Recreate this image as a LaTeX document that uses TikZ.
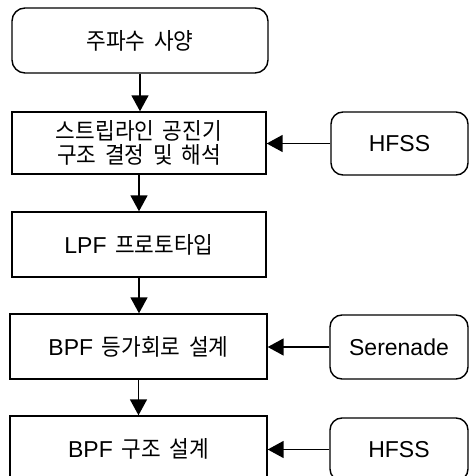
\documentclass[tikz,border=0pt]{standalone}
\usepackage{fontspec}
\setmainfont{Liberation Sans}
\newfontfamily\krfont[WordSpace=1.8, FakeStretch=0.93]{Noto Sans CJK KR}
\newcommand{\kr}[1]{{\krfont #1}}
\usetikzlibrary{arrows.meta}
\begin{document}
\begin{tikzpicture}[x=1pt,y=1pt,
  box/.style={draw, line width=1.4pt, rectangle, inner sep=0pt, font=\fontsize{23}{24.5}\selectfont, align=center},
  rbox/.style={box, rounded corners=12pt},
  arr/.style={line width=1.6pt, -{Triangle[length=16pt,width=17pt]}}]
\useasboundingbox (0,0) rectangle (469,476);
\node[rbox, rounded corners=13pt, minimum width=256, minimum height=65] (top) at (140,435.5) {\kr{주파수 사양}};
\node[box, minimum width=254, minimum height=62] (s2) at (139,333) {\kr{스트립라인 공진기}\\\kr{구조 결정 및 해석}};
\node[box, minimum width=254, minimum height=65] (s3) at (139,231.5) {LPF\kr{ 프로토타입}};
\node[box, minimum width=257, minimum height=65] (s4) at (138.5,129.5) {BPF\kr{ 등가회로 설계}};
\node[box, minimum width=257, minimum height=65] (s5) at (138.5,27.5) {BPF\kr{ 구조 설계}};
\node[rbox, minimum width=137, minimum height=63] (h1) at (399.5,332.5) {HFSS};
\node[rbox, minimum width=138, minimum height=64] (ser) at (399,129) {Serenade};
\node[rbox, minimum width=138, minimum height=63] (h2) at (399,26.5) {HFSS};
\draw[arr] (top.south) -- (top.south |- s2.north);
\draw[arr] (s2.south) -- (s2.south |- s3.north);
\draw[arr] (s3.south) -- (s3.south |- s4.north);
\draw[arr] (s4.south) -- (s4.south |- s5.north);
\draw[arr] (h1.west) -- (h1.west -| s2.east);
\draw[arr] (ser.west) -- (ser.west -| s4.east);
\draw[arr] (h2.west) -- (h2.west -| s5.east);
\end{tikzpicture}
\end{document}
